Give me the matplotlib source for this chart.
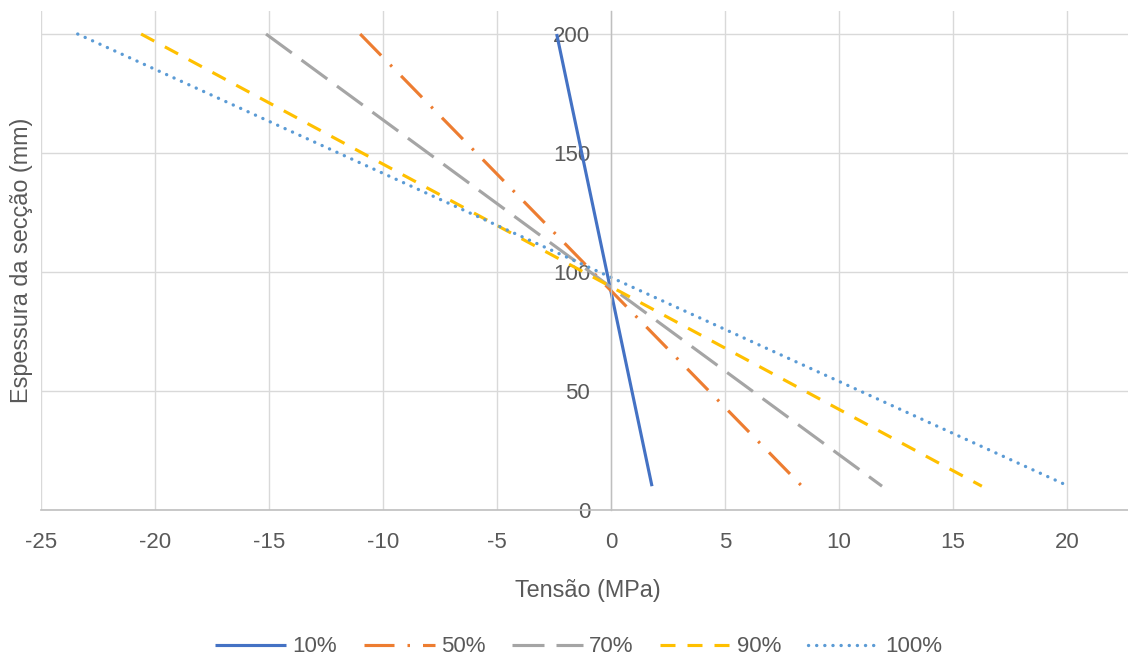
import matplotlib
matplotlib.use("Agg")
import matplotlib.pyplot as plt

plt.rcParams['font.family'] = ['Liberation Sans', 'DejaVu Sans']
plt.rcParams['lines.scale_dashes'] = False
plt.rcParams['axes.unicode_minus'] = False

# Data: stress (MPa) at section depth 200 mm and 10 mm
depth = [200, 10]
series_names = ["10%", "50%", "70%", "90%", "100%"]
s10 = [-2.38, 1.80]
s50 = [-11.0, 8.38]
s70 = [-15.13, 11.89]
s90 = [-20.61, 16.27]
s100 = [-23.39, 20.08]

xticks = [-25, -20, -15, -10, -5, 0, 5, 10, 15, 20]
yticks = [0, 50, 100, 150, 200]

PX = 0.72  # px -> pt at dpi 100
colors = ["#4472C4", "#ED7D31", "#A5A5A5", "#FFC000", "#5B9BD5"]
styles = [
    dict(linestyle='-', solid_capstyle='butt'),
    dict(linestyle=(0, (30*PX, 13*PX, 2.5*PX, 13*PX)), dash_capstyle='butt'),
    dict(linestyle=(0, (32*PX, 12*PX)), dash_capstyle='butt'),
    dict(linestyle=(0, (15*PX, 12*PX)), dash_capstyle='butt'),
    dict(linestyle=(0, (0.1, 8*PX)), dash_capstyle='round'),
]
widths = [2.25, 2.25, 2.25, 2.25, 2.4]

fig = plt.figure(figsize=(11.28, 6.59), dpi=100)
ax = fig.add_axes([41/1128, (659-510)/659, 1 - 41/1128, (510-10.7)/659])

for name, xs, c, st, w in zip(series_names, [s10, s50, s70, s90, s100], colors, styles, widths):
    ax.plot(xs, depth, color=c, lw=w, label=name, **st)

ax.set_xlim(-25, 22.68)
ax.set_ylim(0, 209.8)
ax.set_xticks(xticks)
ax.set_yticks(yticks)
ax.grid(True, color="#D9D9D9", lw=1.0)
ax.set_axisbelow(True)

for s in ['top', 'right']:
    ax.spines[s].set_visible(False)
ax.spines['left'].set_position(('data', 0))
ax.spines['left'].set_color("#BFBFBF")
ax.spines['left'].set_linewidth(1.0)
ax.spines['bottom'].set_color("#BFBFBF")
ax.spines['bottom'].set_linewidth(1.2)

ax.tick_params(axis='y', length=0, pad=15, labelsize=16, labelcolor="#595959")
ax.tick_params(axis='x', length=0, pad=16, labelsize=16, labelcolor="#595959")

fig.text(22/1128, (659-260)/659, "Espessura da secção (mm)", rotation=90,
         ha='center', va='center', fontsize=16.8, color="#595959")
fig.text(588/1128, (659-590)/659, "Tensão (MPa)", ha='center', va='center',
         fontsize=16.8, color="#595959")

leg = fig.legend(loc='center', bbox_to_anchor=(579/1128, 12/659), ncol=5,
                 frameon=False, fontsize=16, handlelength=3.2,
                 handletextpad=0.27, columnspacing=1.2)
for t in leg.get_texts():
    t.set_color("#595959")

fig.savefig("out.png", dpi=100)
